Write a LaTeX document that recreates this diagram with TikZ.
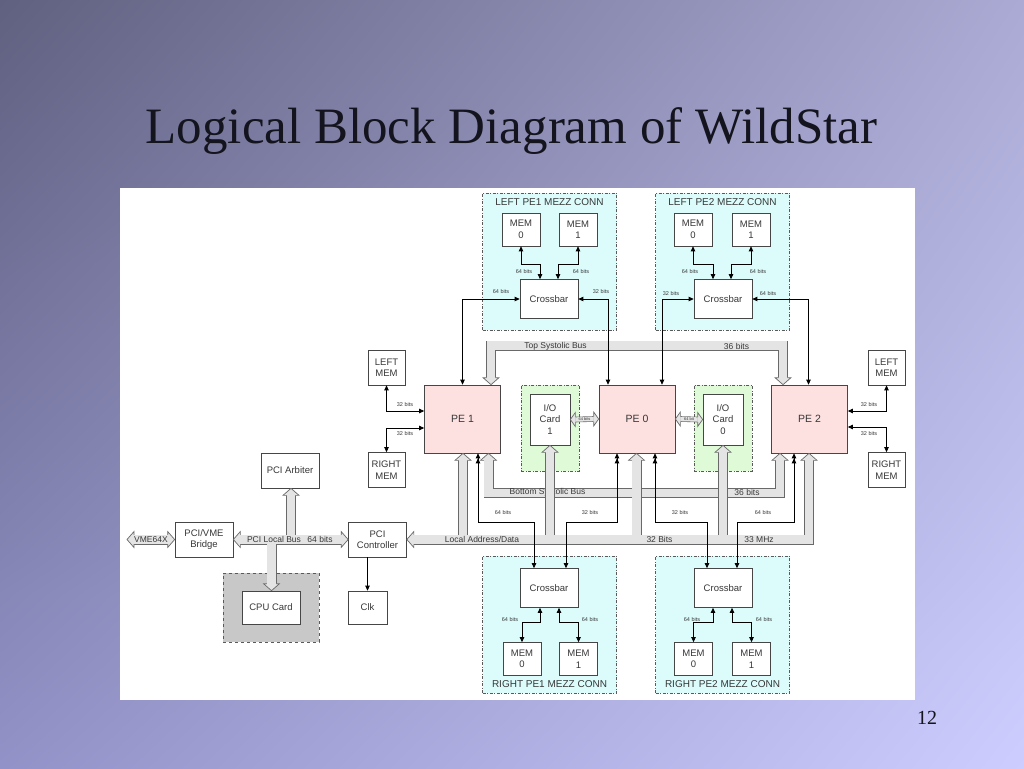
\documentclass[tikz,border=0pt]{standalone}
\usepackage{fontspec}
\setmainfont{Liberation Serif}
\setsansfont{Liberation Sans}
\usetikzlibrary{arrows.meta, calc, shadings}

\definecolor{bgul}{RGB}{96,96,128}
\definecolor{bgur}{RGB}{170,170,212}
\definecolor{bgll}{RGB}{146,146,200}
\definecolor{bglr}{RGB}{205,205,255}
\definecolor{titletxt}{RGB}{20,20,30}
\definecolor{txt}{RGB}{55,55,55}
\definecolor{boxline}{RGB}{70,70,70}
\definecolor{dashline}{RGB}{90,90,90}
\definecolor{pefill}{RGB}{253,224,224}
\definecolor{mezzfill}{RGB}{220,252,252}
\definecolor{iofill}{RGB}{222,250,214}
\definecolor{cpufill}{RGB}{200,200,200}
\definecolor{busline}{RGB}{105,105,105}
\definecolor{busfill}{RGB}{228,228,228}

% hollow heads for the wide buses
\newcommand\busup[1]{\filldraw[bushead] (#1) ++(-4.65,7) -- ++(-3.35,0) -- (#1) -- ++(8,7) -- ++(-3.35,0);}
\newcommand\busdown[1]{\filldraw[bushead] (#1) ++(-4.65,-7) -- ++(-3.35,0) -- (#1) -- ++(8,-7) -- ++(-3.35,0);}
\newcommand\busleft[1]{\filldraw[bushead] (#1) ++(7,-4.65) -- ++(0,-3.35) -- (#1) -- ++(7,8) -- ++(0,-3.35);}
\newcommand\busright[1]{\filldraw[bushead] (#1) ++(-7,-4.65) -- ++(0,-3.35) -- (#1) -- ++(-7,8) -- ++(0,-3.35);}
\newcommand\ioheadleft[1]{\filldraw[bushead] (#1) ++(5,-2.5) -- ++(0,-4.5) -- (#1) -- ++(5,7) -- ++(0,-4.5);}
\newcommand\ioheadright[1]{\filldraw[bushead] (#1) ++(-5,-2.5) -- ++(0,-4.5) -- (#1) -- ++(-5,7) -- ++(0,-4.5);}

% buses with branches: outline pass, then fill pass
\newcommand\ladbus[1]{%
  \draw[#1] ($(lad0)+(7,0)$) -| ($(lad5)+(0,7)$);
  \draw[#1] ($(lad1)+(0,7)$) -- (lad1 |- lad0);
  \draw[#1] ($(lad2)+(0,7)$) -- (lad2 |- lad0);
  \draw[#1] ($(lad3)+(0,7)$) -- (lad3 |- lad0);
  \draw[#1] ($(lad4)+(0,7)$) -- (lad4 |- lad0);}
\newcommand\pcibus[1]{%
  \draw[#1] ($(pcb0)+(7,0)$) -- ($(pcb1)+(-7,0)$);
  \draw[#1] ($(pcb2)+(0,7)$) -- (pcb2 |- pcb0);
  \draw[#1] ($(pcb3)+(0,-7)$) -- (pcb3 |- pcb0);}

\begin{document}
\begin{tikzpicture}[x=1pt, y=-1pt, >={Triangle[length=5pt, width=4.5pt]},
    box/.style={rectangle, draw=boxline, fill=white, line width=0.7pt, align=center, text=txt, font=\sffamily\fontsize{9.5}{11.5}\selectfont, inner sep=1pt},
    mem/.style={box, minimum width=38pt, minimum height=33pt},
    xbar/.style={box, minimum width=58pt, minimum height=39pt},
    pe/.style={box, fill=pefill, minimum width=76pt, minimum height=68pt, font=\sffamily\fontsize{10.5}{12}\selectfont},
    ctl/.style={box, minimum width=58pt, minimum height=35pt},
    mezz/.style={rectangle, draw=dashline, fill=mezzfill, line width=0.7pt, dash pattern=on 3pt off 1.5pt on 1pt off 1.5pt, minimum width=134pt, minimum height=137pt},
    iobox/.style={mezz, fill=iofill, minimum width=58pt, minimum height=86pt},
    cpubox/.style={rectangle, draw=dashline, fill=cpufill, line width=0.7pt, dashed, minimum width=96pt, minimum height=69pt},
    mezztitle/.style={font=\sffamily\fontsize{10}{10}\selectfont, text=txt, inner sep=0pt},
    bits/.style={font=\sffamily\fontsize{5.5}{5.5}\selectfont, text=txt, inner sep=0pt},
    buslbl/.style={font=\sffamily\fontsize{8.5}{8.5}\selectfont, text=txt, inner sep=0pt},
    link/.style={draw=black, line width=0.8pt},
    bus/.style={draw=busline, line width=0.7pt, double=busfill, double distance=8.6pt},
    busout/.style={draw=busline, line width=10pt},
    busin/.style={draw=busfill, line width=8.6pt},
    bushead/.style={draw=busline, fill=busfill, line width=0.7pt},
    iobus/.style={draw=busline, line width=0.6pt, double=busfill, double distance=4.4pt}]

  \useasboundingbox (0,0) rectangle (1024,768);
  \shade[upper left=bgul, upper right=bgur, lower left=bgll, lower right=bglr] (0,0) rectangle (1024,768);
  \fill[white] (120,188) rectangle (915,700);

  \node (title) [font=\rmfamily\fontsize{51}{51}\selectfont, text=titletxt, anchor=base] at (511.5,143) {Logical Block Diagram of WildStar};
  \node (pgno) [font=\rmfamily\fontsize{20}{20}\selectfont, text=titletxt, anchor=base] at (927,724) {12};

  % mezzanine connectors, I/O slots, CPU slot
  \node (lmz1) [mezz] at (549.5,261.5) {};
  \node (lmz2) [mezz] at (722.5,261.5) {};
  \node (rmz1) [mezz] at (549.5,624.5) {};
  \node (rmz2) [mezz] at (722.5,624.5) {};
  \node (io1) [iobox] at (550,428) {};
  \node (io0) [iobox] at (723,428) {};
  \node (cpuarea) [cpubox] at (271,607.5) {};
  \node (lmz1t) [mezztitle] at (549.5,202) {LEFT PE1 MEZZ CONN};
  \node (lmz2t) [mezztitle] at (722.5,202) {LEFT PE2 MEZZ CONN};
  \node (rmz1t) [mezztitle] at (549.5,684) {RIGHT PE1 MEZZ CONN};
  \node (rmz2t) [mezztitle] at (722.5,684) {RIGHT PE2 MEZZ CONN};

  \node (lm1a) [mem] at (521,229.5) {MEM\\0};
  \node (lm1b) [mem] at (578,229.5) {MEM\\1};
  \node (lm2a) [mem] at (693,229.5) {MEM\\0};
  \node (lm2b) [mem] at (751,229.5) {MEM\\1};
  \node (rm1a) [mem] at (522,659) {MEM\\0};
  \node (rm1b) [mem] at (578.5,659) {MEM\\1};
  \node (rm2a) [mem] at (693.5,659) {MEM\\0};
  \node (rm2b) [mem] at (751.5,659) {MEM\\1};
  \node (lx1) [xbar] at (549,299) {Crossbar};
  \node (lx2) [xbar] at (723,299) {Crossbar};
  \node (rx1) [xbar] at (549,588) {Crossbar};
  \node (rx2) [xbar] at (723,588) {Crossbar};

  \node (pe1) [pe] at (462.5,419) {PE 1};
  \node (pe0) [pe] at (637,419) {PE 0};
  \node (pe2) [pe] at (809.5,419) {PE 2};
  \node (io1card) [box, minimum width=40pt, minimum height=51pt] at (550,419.5) {I/O\\Card\\1};
  \node (io0card) [box, minimum width=40pt, minimum height=51pt] at (723,419.5) {I/O\\Card\\0};
  \node (lmeml) [mem, minimum width=37pt, minimum height=35pt] at (386.5,367.5) {LEFT\\MEM};
  \node (rmeml) [mem, minimum width=37pt, minimum height=35pt] at (386.5,470) {RIGHT\\MEM};
  \node (lmemr) [mem, minimum width=37pt, minimum height=35pt] at (886.5,367.5) {LEFT\\MEM};
  \node (rmemr) [mem, minimum width=37pt, minimum height=35pt] at (886.5,470) {RIGHT\\MEM};

  \node (arbiter) [ctl] at (290,470.5) {PCI Arbiter};
  \node (bridge) [ctl] at (204,539.5) {PCI/VME\\Bridge};
  \node (pcictl) [ctl] at (377.5,539.5) {PCI\\Controller};
  \node (clk) [box, minimum width=39pt, minimum height=33pt] at (367.5,607.5) {Clk};
  \node (cpu) [box, minimum width=58pt, minimum height=33pt] at (271,607.5) {CPU Card};

  % bus end points
  \coordinate (tsl) at ([xshift=28.5pt]pe1.north);
  \coordinate (tsr) at ([xshift=-26.5pt]pe2.north);
  \coordinate (bsl) at ([xshift=26pt]pe1.south);
  \coordinate (bsr) at ([xshift=-29.5pt]pe2.south);
  \coordinate (lad0) at (pcictl.east);
  \coordinate (lad1) at ([xshift=0.5pt]pe1.south);
  \coordinate (lad2) at (io1card.south);
  \coordinate (lad3) at ([xshift=-0.5pt]pe0.south);
  \coordinate (lad4) at (io0card.south);
  \coordinate (lad5) at ([xshift=-0.5pt]pe2.south);
  \coordinate (pcb0) at (bridge.east);
  \coordinate (pcb1) at (pcictl.west);
  \coordinate (pcb2) at ([xshift=1pt]arbiter.south);
  \coordinate (pcb3) at ([xshift=0.5pt]cpu.north);
  \coordinate (vme) at (127,539.5);

  % systolic buses
  \draw[bus] ($(tsl)+(0,-7)$) -- ++(0,-32) -| ($(tsr)+(0,-7)$);
  \busdown{tsl} \busdown{tsr}
  \draw[bus] ($(bsl)+(0,7)$) -- ++(0,32.5) -| ($(bsr)+(0,7)$);
  \busup{bsl} \busup{bsr}
  \node (tsb) [buslbl] at (555.5,346.5) {Top Systolic Bus};
  \node (tsw) [buslbl] at (736.5,346.5) {36 bits};
  \node (bsb) [buslbl] at (547.5,492.5) {Bottom Systolic Bus};
  \node (bsw) [buslbl] at (747,492.5) {36 bits};

  % local address/data bus
  \ladbus{busout}
  \ladbus{busin}
  \busleft{lad0}
  \busup{lad1} \busup{lad2} \busup{lad3} \busup{lad4} \busup{lad5}
  \node (ladb) [buslbl] at (482,539.5) {Local Address/Data};
  \node (ladw) [buslbl] at (659.5,539.5) {32 Bits};
  \node (ladf) [buslbl] at (759,539.5) {33 MHz};

  % PCI local bus and VME
  \pcibus{busout}
  \pcibus{busin}
  \busleft{pcb0} \busright{pcb1} \busup{pcb2} \busdown{pcb3}
  \node (pcib) [buslbl] at (274,539.5) {PCI Local Bus};
  \node (pciw) [buslbl] at (320,539.5) {64 bits};
  \draw[bus] ($(vme)+(7,0)$) -- ($(bridge.west)+(-7,0)$);
  \busleft{vme} \busright{bridge.west}
  \node (vmel) [buslbl] at (151,539.5) {VME64X};

  % I/O card links
  \draw[iobus] ($(io1card.east)+(5,0)$) -- ($(pe0.west)+(-5,0)$);
  \ioheadleft{io1card.east} \ioheadright{pe0.west}
  \draw[iobus] ($(pe0.east)+(5,0)$) -- ($(io0card.west)+(-5,0)$);
  \ioheadleft{pe0.east} \ioheadright{io0card.west}
  \node (io1w) [bits, font=\sffamily\fontsize{4}{4}\selectfont] at ($(io1card.east)!0.5!(pe0.west)$) {64 bits};
  \node (io0w) [bits, font=\sffamily\fontsize{4}{4}\selectfont] at ($(pe0.east)!0.5!(io0card.west)$) {64 bit};

  % point to point links
  \draw[link, <->] (lm1a.south) -- ++(0,18) -| ([xshift=-9pt]lx1.north);
  \draw[link, <->] (lm1b.south) -- ++(0,18) -| ([xshift=9pt]lx1.north);
  \draw[link, <->] (pe1.north) |- (lx1.west);
  \draw[link, <->] ([xshift=-29pt]pe0.north) |- (lx1.east);
  \draw[link, <->] (lm2a.south) -- ++(0,18) -| ([xshift=-10pt]lx2.north);
  \draw[link, <->] (lm2b.south) -- ++(0,18) -| ([xshift=8pt]lx2.north);
  \draw[link, <->] ([xshift=25pt]pe0.north) |- (lx2.west);
  \draw[link, <->] ([xshift=-1pt]pe2.north) |- (lx2.east);

  \draw[link, <<->] ([xshift=15.5pt]pe1.south) -- ++(0,69) -| ([xshift=-15pt]rx1.north);
  \draw[link, <<->] ([xshift=-20pt]pe0.south) -- ++(0,69) -| ([xshift=17pt]rx1.north);
  \draw[link, <<->] ([xshift=18pt]pe0.south) -- ++(0,69) -| ([xshift=-16pt]rx2.north);
  \draw[link, <<->] ([xshift=-15.5pt]pe2.south) -- ++(0,69) -| ([xshift=14pt]rx2.north);
  \draw[link, <->] ([xshift=-9pt]rx1.south) -- ++(0,15) -| (rm1a.north);
  \draw[link, <->] ([xshift=10pt]rx1.south) -- ++(0,15) -| (rm1b.north);
  \draw[link, <->] ([xshift=-10pt]rx2.south) -- ++(0,15) -| (rm2a.north);
  \draw[link, <->] ([xshift=9pt]rx2.south) -- ++(0,15) -| (rm2b.north);

  \draw[link, <->] (lmeml.south) |- ([yshift=8pt]pe1.west);
  \draw[link, <->] ([yshift=-9pt]pe1.west) -| (rmeml.north);
  \draw[link, <->] ([yshift=8pt]pe2.east) -| (lmemr.south);
  \draw[link, <->] ([yshift=-8pt]pe2.east) -| (rmemr.north);
  \draw[link, ->] (clk.north |- pcictl.south) -- (clk.north);

  % width labels
  \foreach \x/\y/\t [count=\i] in {524/272/64 bits, 581/272/64 bits, 501/292/64 bits, 601/292/32 bits,
      690/272/64 bits, 758/272/64 bits, 671/294/32 bits, 768/294/64 bits,
      405/405/32 bits, 405/434/32 bits, 869/405/32 bits, 869/434/32 bits,
      503/513/64 bits, 590/513/32 bits, 680/513/32 bits, 763/513/64 bits,
      510/620/64 bits, 590/620/64 bits, 692/620/64 bits, 764/620/64 bits}
    \node (bits\i) [bits] at (\x,\y) {\t};
\end{tikzpicture}
\end{document}
